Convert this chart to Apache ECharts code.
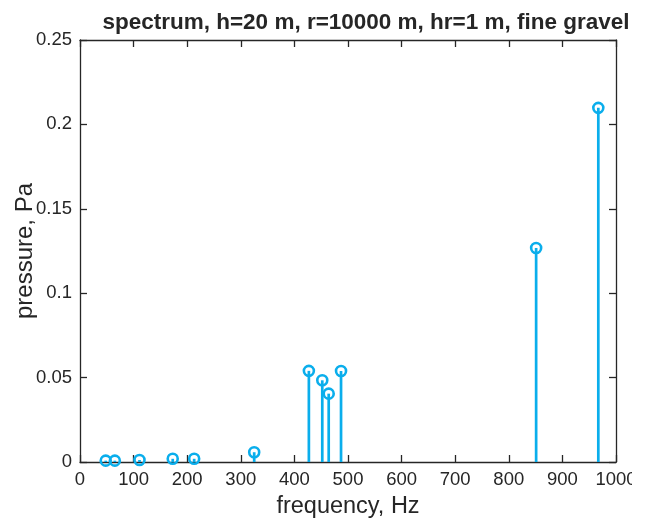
<!DOCTYPE html>
<html>
<head>
<meta charset="utf-8">
<script src="https://cdn.jsdelivr.net/npm/echarts@6/dist/echarts.min.js"></script>
<style>
html,body{margin:0;padding:0;background:#fff;}
#chart{width:632px;height:520px;overflow:hidden;}
</style>
</head>
<body>
<div id="chart"></div>
<script>
const titleText = 'spectrum, h=20 m, r=10000 m, hr=1 m, fine gravel';
const xName = 'frequency, Hz';
const yName = 'pressure, Pa';
const frequencies = [48, 65, 111, 173, 213, 325, 427, 452, 464, 487, 851, 967];
const pressures = [0.0008, 0.0008, 0.0012, 0.0019, 0.0019, 0.0058, 0.0540, 0.0484, 0.0405, 0.0539, 0.1268, 0.2098];

const stemColor = '#0AAEEC';
const axisColor = '#262626';
const font = '"Liberation Sans", Arial, Helvetica, sans-serif';
const points = frequencies.map((f, i) => [f, pressures[i]]);

const chart = echarts.init(document.getElementById('chart'), null, {renderer: 'canvas'});
const axisCommon = {
  type: 'value',
  axisLine: {show: true, onZero: false, lineStyle: {color: axisColor, width: 1.3}},
  axisTick: {show: true, inside: true, length: 7, lineStyle: {color: axisColor, width: 1.3}},
  splitLine: {show: false},
  axisLabel: {color: axisColor, fontFamily: font, fontSize: 18.5, formatter: v => String(v)}
};
chart.setOption({
  animation: false,
  backgroundColor: '#fff',
  title: {
    text: titleText, left: 361, top: 6, textAlign: 'center',
    textStyle: {fontFamily: font, fontWeight: 'bold', fontSize: 22.5, color: axisColor}
  },
  grid: {left: 80, right: 16, top: 40, bottom: 58, containLabel: false, outerBoundsMode: 'none'},
  xAxis: [
    Object.assign({}, axisCommon, {
      position: 'bottom', min: 0, max: 1000, interval: 100,
      name: xName, nameLocation: 'middle', nameGap: 33, nameMoveOverlap: false,
      nameTextStyle: {fontFamily: font, fontSize: 23.5, color: axisColor},
      axisLabel: Object.assign({}, axisCommon.axisLabel, {margin: 8})
    }),
    Object.assign({}, axisCommon, {
      position: 'top', min: 0, max: 1000, interval: 100,
      axisLabel: {show: false}
    })
  ],
  yAxis: [
    Object.assign({}, axisCommon, {
      position: 'left', min: 0, max: 0.25, interval: 0.05,
      name: yName, nameLocation: 'middle', nameGap: 43, nameMoveOverlap: false,
      nameTextStyle: {fontFamily: font, fontSize: 24, color: axisColor},
      axisLabel: Object.assign({}, axisCommon.axisLabel, {margin: 8})
    }),
    Object.assign({}, axisCommon, {
      position: 'right', min: 0, max: 0.25, interval: 0.05,
      axisLabel: {show: false}
    })
  ],
  series: [
    {
      type: 'custom',
      xAxisIndex: 0, yAxisIndex: 0,
      data: points,
      renderItem: function (params, api) {
        const p0 = api.coord([api.value(0), 0]);
        const p1 = api.coord([api.value(0), api.value(1)]);
        return {
          type: 'line',
          shape: {x1: p0[0], y1: p0[1], x2: p1[0], y2: p1[1]},
          style: {stroke: stemColor, lineWidth: 2.7}
        };
      },
      z: 2
    },
    {
      type: 'scatter',
      xAxisIndex: 0, yAxisIndex: 0,
      data: points,
      symbol: 'circle',
      symbolSize: 10,
      itemStyle: {color: 'rgba(0,0,0,0)', borderColor: stemColor, borderWidth: 2.6, opacity: 1},
      z: 3
    }
  ]
});
</script>
</body>
</html>
